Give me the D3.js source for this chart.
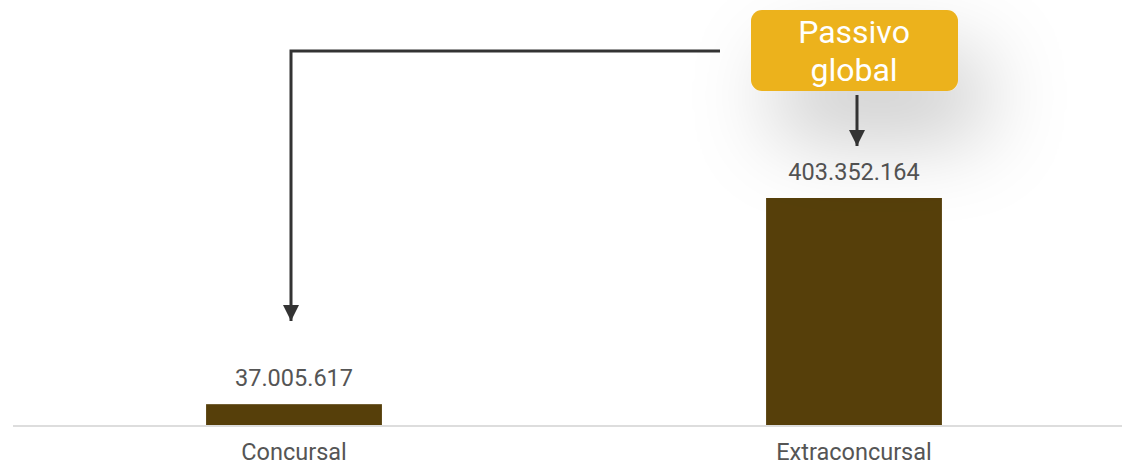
<!DOCTYPE html>
<html>
<head>
<meta charset="utf-8">
<script src="https://cdn.jsdelivr.net/npm/d3@7/dist/d3.min.js"></script>
<style>
  body { margin: 0; background: #fff; }
  svg { display: block; font-family: Roboto, "Noto Sans", sans-serif; }
</style>
</head>
<body>
<svg id="chart" width="1122" height="466"></svg>
<script>
// data
const categories = ["Concursal", "Extraconcursal"];
const values = [37005617, 403352164];
const calloutLines = ["Passivo", "global"];

const width = 1122, height = 466;
const baseY = 425;

const svg = d3.select("#chart");

const x = d3.scaleBand()
  .domain(categories)
  .range([14, 1134])
  .paddingInner(0.686)
  .paddingOuter(0.343);

const y = d3.scaleLinear()
  .domain([0, d3.max(values)])
  .range([baseY, 198]);

const fmt = v => d3.format(",")(v).replace(/,/g, ".");

const defs = svg.append("defs");
defs.append("marker")
  .attr("id", "arrow")
  .attr("viewBox", "0 0 10 10")
  .attr("refX", 10).attr("refY", 5)
  .attr("markerWidth", 5.5).attr("markerHeight", 5.5)
  .attr("markerUnits", "strokeWidth")
  .attr("orient", "auto")
  .append("path")
  .attr("d", "M0,0 L10,5 L0,10 Z")
  .attr("fill", "#333");

const shadow = defs.append("filter")
  .attr("id", "shadow")
  .attr("x", "-100%").attr("y", "-150%")
  .attr("width", "300%").attr("height", "500%");
shadow.append("feDropShadow")
  .attr("dx", 25).attr("dy", 45)
  .attr("stdDeviation", 42)
  .attr("flood-color", "#000")
  .attr("flood-opacity", 0.22);

// baseline
svg.append("line")
  .attr("x1", 13).attr("x2", width)
  .attr("y1", baseY + 1).attr("y2", baseY + 1)
  .attr("stroke", "#ddd").attr("stroke-width", 2);

const data = categories.map((c, i) => ({ cat: c, value: values[i] }));

svg.selectAll("rect.bar")
  .data(data)
  .join("rect")
  .attr("class", "bar")
  .attr("x", d => x(d.cat))
  .attr("y", d => y(d.value))
  .attr("width", x.bandwidth())
  .attr("height", d => baseY - y(d.value))
  .attr("fill", "#563f0a");

svg.selectAll("text.val")
  .data(data)
  .join("text")
  .attr("class", "val")
  .attr("x", d => x(d.cat) + x.bandwidth() / 2)
  .attr("y", d => y(d.value) - 18)
  .attr("text-anchor", "middle")
  .attr("font-size", 23.5)
  .attr("fill", "#555")
  .text(d => fmt(d.value));

svg.selectAll("text.cat")
  .data(data)
  .join("text")
  .attr("class", "cat")
  .attr("x", d => x(d.cat) + x.bandwidth() / 2)
  .attr("y", 459.5)
  .attr("text-anchor", "middle")
  .attr("font-size", 23.5)
  .attr("fill", "#555")
  .text(d => d.cat);

// callout
const cx1 = x(categories[0]) + x.bandwidth() / 2;
const cx2 = x(categories[1]) + x.bandwidth() / 2;

svg.append("path")
  .attr("d", `M720,51 H${cx1 - 3} V321`)
  .attr("fill", "none")
  .attr("stroke", "#333")
  .attr("stroke-width", 3)
  .attr("marker-end", "url(#arrow)");

svg.append("rect")
  .attr("x", 751).attr("y", 10)
  .attr("width", 207).attr("height", 81)
  .attr("rx", 11)
  .attr("fill", "#ecb21e")
  .attr("filter", "url(#shadow)");

svg.append("text")
  .attr("x", cx2)
  .attr("text-anchor", "middle")
  .attr("font-size", 32)
  .attr("fill", "#fff")
  .selectAll("tspan")
  .data(calloutLines)
  .join("tspan")
  .attr("x", cx2)
  .attr("y", (d, i) => 43 + i * 38)
  .text(d => d);

svg.append("line")
  .attr("x1", cx2 + 3).attr("x2", cx2 + 3)
  .attr("y1", 95).attr("y2", 146)
  .attr("stroke", "#333")
  .attr("stroke-width", 3)
  .attr("marker-end", "url(#arrow)");
</script>
</body>
</html>
